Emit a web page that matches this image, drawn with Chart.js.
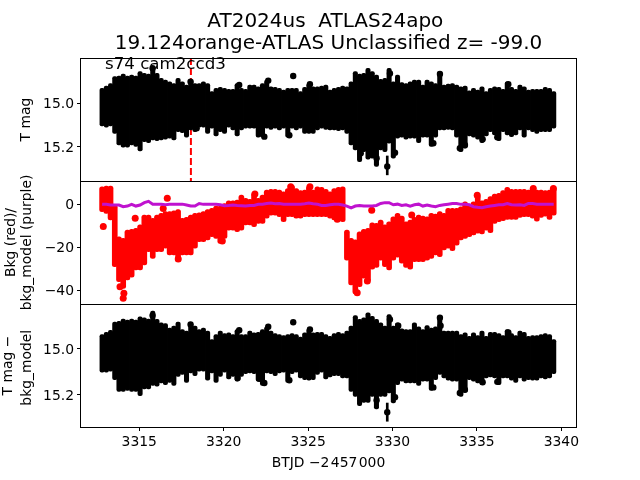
<!DOCTYPE html>
<html><head><meta charset="utf-8">
<style>html,body{margin:0;padding:0;background:#fff}canvas{display:block}</style>
<script src="https://cdn.jsdelivr.net/npm/chart.js@4/dist/chart.umd.min.js"></script>
</head><body><canvas id="c" width="640" height="480"></canvas>
<script>
const titleLines = ["AT2024us  ATLAS24apo ","19.124orange-ATLAS Unclassified z= -99.0"];
const sectorNote = "s74 cam2ccd3";
const xLabel = "BTJD \u22122\u200a457\u200a000";
const topLabel = "T mag";
const midLabel = ["Bkg (red)/","bkg_model (purple)"];
const botLabel = ["T mag \u2212","bkg_model "];
const xTicks = [3315,3320,3325,3330,3335,3340];
const topTicks = [15.0,15.2];
const midTicks = [0,-20,-40];
const botTicks = [15.0,15.2];
const eventTime = 3318.06;

const times = [3312.8,3313.05,3313.3,3313.55,3313.8,3314.05,3314.3,3314.55,3314.8,3315.05,3315.3,3315.55,3315.8,3316.05,3316.3,3316.55,3316.8,3317.05,3317.3,3317.55,3317.8,3318.05,3318.3,3318.55,3318.8,3319.05,3319.3,3319.55,3319.8,3320.05,3320.3,3320.55,3320.8,3321.05,3321.3,3321.55,3321.8,3322.05,3322.3,3322.55,3322.8,3323.05,3323.3,3323.55,3323.8,3324.05,3324.3,3324.55,3324.8,3325.05,3325.3,3325.55,3325.8,3326.05,3326.3,3326.55,3326.8,3327.05,3327.3,3327.55,3327.8,3328.05,3328.3,3328.55,3328.8,3329.05,3329.3,3329.55,3329.8,3330.05,3330.3,3330.55,3330.8,3331.05,3331.3,3331.55,3331.8,3332.05,3332.3,3332.55,3332.8,3333.05,3333.3,3333.55,3333.8,3334.05,3334.3,3334.55,3334.8,3335.05,3335.3,3335.55,3335.8,3336.05,3336.3,3336.55,3336.8,3337.05,3337.3,3337.55,3337.8,3338.05,3338.3,3338.55,3338.8,3339.05,3339.3,3339.55];

const topHi = [14.933,14.923,14.911,14.880,14.877,14.868,14.877,14.873,14.877,14.857,14.865,14.868,14.835,14.865,14.888,14.895,14.903,14.911,14.888,14.903,14.918,14.895,14.911,14.911,14.903,14.911,14.948,14.933,14.929,14.933,14.938,14.938,14.911,14.933,14.938,14.918,14.918,14.926,14.911,14.895,14.926,14.929,14.933,14.941,14.933,14.933,14.933,14.948,14.929,14.911,14.926,14.926,14.923,14.918,14.941,
14.933,14.929,14.923,14.926,14.903,14.857,14.868,14.865,14.842,14.857,14.873,14.892,14.888,14.842,14.903,14.873,14.907,14.911,14.903,14.895,14.895,14.918,14.895,14.903,14.911,14.857,14.918,14.914,14.911,14.918,14.926,14.923,14.944,14.933,14.941,14.926,14.948,14.933,14.926,14.929,14.938,14.903,14.929,14.938,14.918,14.926,14.941,14.938,14.938,14.938,14.929,14.933,14.948];
const topLo = [15.104,15.110,15.104,15.138,15.191,15.201,15.201,15.191,15.198,15.218,15.176,15.180,15.168,15.171,15.168,15.165,15.160,15.168,15.130,15.135,15.156,15.123,15.130,15.110,15.110,15.138,15.115,15.150,15.130,15.138,15.110,15.123,15.150,15.123,15.115,15.115,15.115,15.156,15.156,15.115,15.120,15.115,15.123,15.115,15.156,15.115,15.123,15.115,15.138,15.138,15.138,15.123,15.115,15.120,15.123,
15.123,15.126,15.123,15.138,15.191,15.214,15.267,15.221,15.256,15.251,15.289,15.214,15.221,15.183,15.251,15.160,15.156,15.165,15.160,15.160,15.180,15.156,15.156,15.198,15.156,15.123,15.123,15.120,15.123,15.156,15.221,15.206,15.150,15.156,15.165,15.180,15.150,15.130,15.145,15.171,15.130,15.145,15.153,15.145,15.123,15.156,15.123,15.130,15.138,15.130,15.130,15.130,15.115];
const topDotX = [3322.64,3324.12,3318.40,3322.41,3323.89,3322.11,3320.92,3325.11,3315.79,3318.04,3329.85,3332.81,3336.86,3329.69,3332.42,3333.99,3334.29,3329.06,3336.21,3328.12,3330.15,3335.34];
const topDotY = [14.898,14.877,15.115,15.153,15.147,15.138,14.918,14.914,14.842,14.903,14.865,14.868,14.914,15.289,15.183,15.206,15.191,15.251,15.156,15.229,15.226,15.165];
const topSpikeX = [3329.69];
const topSpikeHi = [15.241];
const topSpikeLo = [15.327];

const bkgHi = [8.2,8.5,8.5,-0.3,-15.1,-15.9,-12.0,-11.7,-11.2,-9.6,-5.0,-5.0,-6.5,-5.0,-4.2,-3.4,-3.4,-3.0,-2.4,-6.5,-6.1,-5.0,-4.2,-3.9,-3.4,-2.4,-1.9,-0.8,-0.8,0.4,1.7,1.7,2.0,4.3,2.8,2.3,5.4,2.8,4.3,6.7,7.0,7.0,6.7,5.9,7.4,9.0,7.4,6.4,6.7,8.5,6.7,8.2,7.9,7.0,5.9,
7.4,7.9,8.2,-12.0,-15.9,-16.6,-12.8,-11.7,-11.2,-8.6,-8.9,-7.3,-9.6,-8.1,-5.8,-4.2,-5.5,-8.1,-7.3,-6.1,-5.0,-5.5,-5.8,-4.2,-4.5,-3.4,-4.2,-1.9,-1.9,-1.9,-1.1,1.2,-0.3,1.2,4.3,1.7,2.3,3.6,4.8,5.1,6.4,7.9,7.0,7.0,7.0,7.0,6.7,7.9,6.7,6.7,6.4,6.7,7.9];
const bkgLo = [-3.4,-4.2,-7.3,-29.1,-36.1,-39.2,-35.3,-34.0,-30.6,-30.6,-28.3,-22.1,-25.2,-22.1,-22.1,-20.5,-23.6,-23.6,-26.7,-23.6,-23.6,-23.6,-20.5,-17.4,-17.4,-16.6,-15.1,-15.9,-18.2,-15.9,-12.0,-12.0,-12.8,-12.0,-9.6,-9.6,-10.4,-8.9,-8.9,-6.5,-5.0,-5.0,-5.8,-8.1,-5.8,-5.8,-6.5,-6.5,-5.8,-5.8,-5.8,-5.8,-5.8,-5.8,-6.5,
-7.3,-6.5,-8.1,-26.0,-37.6,-41.8,-38.4,-34.5,-36.1,-30.3,-29.4,-26.0,-29.1,-30.6,-26.0,-24.7,-27.5,-29.4,-30.3,-26.7,-26.7,-26.7,-26.0,-25.2,-23.6,-24.4,-21.3,-20.5,-21.6,-19.0,-16.6,-15.9,-15.1,-14.3,-13.5,-13.8,-12.0,-13.2,-8.9,-8.1,-7.6,-7.0,-7.0,-7.0,-6.1,-5.8,-5.8,-6.5,-7.8,-6.1,-5.5,-7.0,-5.0];
const bkgDotX = [3312.87,3316.66,3314.76,3316.42,3317.31,3314.05,3314.09,3313.86,3319.92,3321.85,3323.97,3325.11,3328.77,3331.14,3326.73,3328.51,3327.91,3335.02,3339.53,3338.34];
const bkgDotY = [-10.3,2.8,-6.5,-1.9,-25.5,-43.8,-41.5,-38.4,-17.1,4.8,8.2,8.2,-2.7,-5.0,-7.0,-35.8,-41.2,4.3,7.4,7.4];
const modelY = [0.1,0,-0.3,-0.3,-0.3,-1.1,-0.8,0,-0.8,-0.3,0.8,1.4,0.1,0.1,0.1,-0.2,0,0.1,0.1,0.1,-0.3,-0.8,-0.8,0.4,0,0.1,0.1,0.1,-0.2,-0.6,-0.5,-0.3,-0.5,-0.6,-0.8,-0.5,-0.5,0,0.1,0.4,0.6,0.3,0.4,0.1,0.1,0,0,0.1,0.3,0.6,0.3,0.1,-0.5,-0.5,-0.2,
0.1,0,-0.3,-0.8,-1.6,-0.8,-0.5,-0.8,-0.8,-0.8,-0.5,0.4,0.8,0.8,-0.2,0.1,-0.5,-0.2,-0.8,-0.2,0.1,-0.8,-0.3,-0.8,-1.1,-0.5,-0.2,0.1,0.4,0.4,0,0.1,-0.2,-1.1,-1.4,-1.6,-1.1,-0.8,-0.5,-0.2,-0.2,0.4,-0.2,-0.3,-0.2,-0.5,0.4,0.4,0.1,0,0,0.1,0.1];

const botHi = [14.939,14.929,14.920,14.885,14.881,14.871,14.876,14.871,14.876,14.862,14.866,14.871,14.837,14.873,14.888,14.891,14.910,14.902,14.885,14.917,14.924,14.888,14.902,14.917,14.910,14.924,14.960,14.939,14.924,14.934,14.931,14.939,14.917,14.939,14.939,14.924,14.931,14.929,14.917,14.905,14.924,14.934,14.939,14.943,14.939,14.934,14.939,14.950,14.931,14.914,14.931,14.929,14.929,14.939,14.946,
14.934,14.929,14.934,14.924,14.902,14.856,14.873,14.866,14.844,14.859,14.873,14.888,14.902,14.852,14.902,14.888,14.914,14.917,14.917,14.888,14.905,14.917,14.900,14.910,14.905,14.859,14.924,14.924,14.924,14.924,14.939,14.931,14.946,14.931,14.943,14.924,14.946,14.929,14.929,14.934,14.943,14.917,14.934,14.943,14.924,14.929,14.946,14.943,14.943,14.939,14.934,14.939,14.960];
const botLo = [15.102,15.102,15.098,15.134,15.185,15.185,15.181,15.185,15.185,15.204,15.175,15.175,15.160,15.163,15.149,15.156,15.146,15.160,15.120,15.112,15.146,15.105,15.117,15.098,15.098,15.137,15.105,15.146,15.120,15.102,15.131,15.120,15.141,15.120,15.108,15.105,15.108,15.141,15.160,15.105,15.108,15.117,15.105,15.102,15.146,15.108,15.102,15.127,15.134,15.137,15.134,15.112,15.102,15.131,15.123,
15.117,15.117,15.127,15.127,15.185,15.207,15.247,15.233,15.233,15.207,15.262,15.207,15.207,15.192,15.236,15.156,15.141,15.149,15.149,15.149,15.160,15.141,15.141,15.181,15.134,15.112,15.127,15.137,15.141,15.141,15.207,15.189,15.134,15.141,15.149,15.156,15.127,15.123,15.127,15.156,15.127,15.127,15.137,15.146,15.127,15.141,15.134,15.137,15.137,15.127,15.131,15.127,15.108];
const botDotX = [3322.64,3324.12,3322.41,3323.89,3322.11,3320.92,3325.11,3315.79,3318.04,3320.83,3329.85,3332.81,3332.85,3330.34,3332.42,3333.99,3334.29,3329.06,3336.21,3328.12,3330.15,3335.34,3336.86,3329.69];
const botDotY = [14.905,14.885,15.149,15.137,15.131,14.920,14.917,14.856,14.895,15.127,14.873,14.866,14.900,14.900,15.168,15.192,15.178,15.224,15.144,15.210,15.211,15.146,14.929,15.276];
const botSpikeX = [3329.69];
const botSpikeHi = [15.236];
const botSpikeLo = [15.315];

const FONT = "'DejaVu Sans'";
const floatBars = (xs, lo, hi) => xs.map((x,i)=>({x:x, y:[lo[i],hi[i]]}));
const pts = (xs, ys) => xs.map((x,i)=>({x:x, y:ys[i]}));
const barSet = (data, axis, color, w, r, order) => ({type:'bar', data, yAxisID:axis, backgroundColor:color, borderWidth:0, barThickness:w, borderRadius:r, borderSkipped:false, grouped:false, order});
const dotSet = (data, axis, color, r, order) => ({type:'scatter', data, yAxisID:axis, backgroundColor:color, borderWidth:0, pointRadius:r, showLine:false, order});

const yAxis = (min,max,rev,ticks,fmt,text,pad,lh) => ({
  type:'linear', stack:'panels', stackWeight:1, position:'left', min, max, reverse:rev,
  border:{display:false},
  grid:{drawOnChartArea:false, drawTicks:true, tickLength:4, tickColor:'#000', tickWidth:1},
  ticks:{color:'#000', font:{family:FONT,size:13.9}, padding:3, labelOffset:1.5, autoSkip:false, callback:fmt},
  title:{display:true, text, color:'#000', font:{family:FONT,size:13.9,lineHeight:lh}, padding:{top:pad,bottom:0}},
  afterBuildTicks:s=>{s.ticks=ticks.map(v=>({value:v}));},
  afterFit:s=>{s.width=81;}
});
const fmtMag = v=>v.toFixed(1);
const fmtBkg = v=>String(v).replace('-','\u2212');

const overlay = {
  id:'overlay',
  afterDatasetsDraw(chart){
    const c=chart.ctx, a=chart.chartArea;
    c.save();
    c.strokeStyle='#000'; c.lineWidth=1;
    ['yTop','yMid','yBot'].forEach(id=>{
      const s=chart.scales[id];
      c.strokeRect(Math.round(a.left)-0.5,Math.round(s.top)+0.5,Math.round(a.right-a.left)+1,Math.round(s.bottom-s.top));
    });
    c.fillStyle='#000';
    c.font="16.67px "+FONT;
    c.textAlign='left'; c.textBaseline='alphabetic';
    c.fillText(sectorNote,105,69);
    c.restore();
  }
};

new Chart(document.getElementById('c'),{
  data:{datasets:[
    barSet(floatBars(times,topLo,topHi),'yTop','#000',4.4,2,4),
    barSet(floatBars(topSpikeX,topSpikeLo,topSpikeHi),'yTop','#000',2,0,4),
    dotSet(pts(topDotX,topDotY),'yTop','#000',3.2,3),
    {type:'line',data:[{x:eventTime,y:14.795},{x:eventTime,y:15.355}],yAxisID:'yTop',borderColor:'#ff0000',borderWidth:2,borderDash:[7,3],pointRadius:0,order:10},
    barSet(floatBars(times,bkgLo,bkgHi),'yMid','#ff0000',5,2.5,6),
    dotSet(pts(bkgDotX,bkgDotY),'yMid','#ff0000',3.5,5),
    {type:'line',data:pts(times,modelY),yAxisID:'yMid',borderColor:'#bf12cf',borderWidth:3,pointRadius:0,tension:0,order:1},
    barSet(floatBars(times,botLo,botHi),'yBot','#000',4.4,2,4),
    barSet(floatBars(botSpikeX,botSpikeLo,botSpikeHi),'yBot','#000',2,0,4),
    dotSet(pts(botDotX,botDotY),'yBot','#000',3.2,3)
  ]},
  plugins:[overlay],
  options:{
    responsive:false, animation:false, events:[],
    layout:{padding:{left:0,right:64,top:0,bottom:0}},
    plugins:{
      legend:{display:false}, tooltip:{enabled:false},
      title:{display:true,fullSize:false,text:titleLines,color:'#000',font:{family:FONT,size:20,weight:'normal',lineHeight:1.1},padding:{top:11,bottom:3}}
    },
    scales:{
      x:{type:'linear',position:'bottom',min:3311.55,max:3340.87,offset:false,
        border:{display:false},
        grid:{drawOnChartArea:false,drawTicks:true,tickLength:4,tickColor:'#000',tickWidth:1,offset:false},
        ticks:{color:'#000',font:{family:FONT,size:13.9},padding:3,maxRotation:0,autoSkip:false,callback:v=>String(v)},
        title:{display:true,text:xLabel,color:'#000',font:{family:FONT,size:13.9,lineHeight:1.2},padding:{top:0,bottom:8}},
        afterBuildTicks:s=>{s.ticks=xTicks.map(v=>({value:v}));},
        afterFit:s=>{s.height=53;}
      },
      yBot:yAxis(14.806,15.34,true,botTicks,fmtMag,botLabel,-1,1.35),
      yMid:yAxis(-46.5,10.9,false,midTicks,fmtBkg,midLabel,2.7,1.2),
      yTop:yAxis(14.795,15.355,true,topTicks,fmtMag,topLabel,17.7,1.2)
    }
  }
});
</script></body></html>
